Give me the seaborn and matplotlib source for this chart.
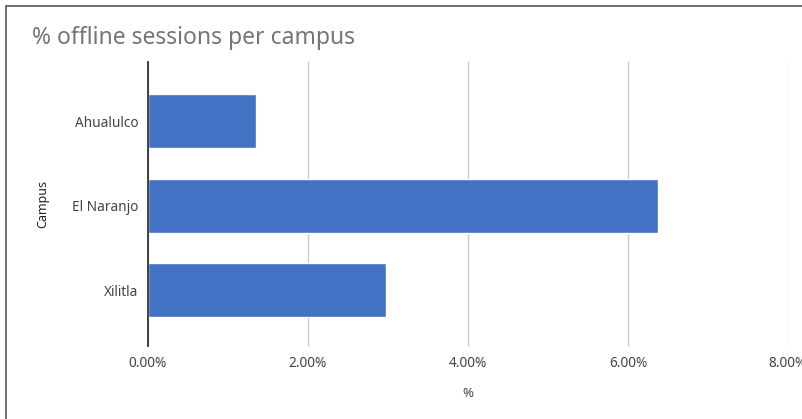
import matplotlib
matplotlib.use("Agg")
import matplotlib.pyplot as plt
import matplotlib.patches as mpatches
from matplotlib.ticker import FuncFormatter
import pandas as pd
import seaborn as sns

# values (fraction, shown as %)
campuses = ["Ahualulco", "El Naranjo", "Xilitla"]
offline_pct = [0.0135, 0.0638, 0.0297]
x_ticks = [0.0, 0.02, 0.04, 0.06, 0.08]

df = pd.DataFrame({"Campus": campuses, "pct": offline_pct})

sns.set_style("white")
plt.rcParams["font.family"] = ["Noto Sans", "DejaVu Sans"]

fig = plt.figure(figsize=(8.03, 4.19), dpi=100)
ax = fig.add_axes([0.1843, 0.174, 0.797, 0.678])

sns.barplot(data=df, x="pct", y="Campus", orient="h", color="#4472C4",
            saturation=1, width=0.64, ax=ax)

ax.set_xlim(0, 0.08)
ax.set_ylim(2.66, -0.70)
ax.set_xticks(x_ticks)
ax.xaxis.set_major_formatter(FuncFormatter(lambda v, p: "{:.2f}%".format(v * 100)))
ax.grid(axis="x", color="#cccccc", linewidth=1)
ax.set_axisbelow(True)
for s in ["top", "right", "bottom"]:
    ax.spines[s].set_visible(False)
ax.spines["left"].set_color("#333333")
ax.spines["left"].set_linewidth(1.3)
ax.spines["left"].set_zorder(5)
ax.tick_params(axis="both", length=0, labelsize=9.8, labelcolor="#444444")
ax.tick_params(axis="x", pad=7)
ax.tick_params(axis="y", pad=7)
for lbl in ax.get_xticklabels():
    lbl.set_clip_on(False)

ax.set_xlabel("%", fontsize=9.5, color="#444444", labelpad=12)
ax.set_ylabel("Campus", fontsize=9, color="#222222", labelpad=16)

fig.text(32 / 803, 1 - 38 / 419, "% offline sessions per campus", fontsize=16.5,
         color="#757575", va="center", ha="left")

# outer frame (cropped on right and bottom)
frame = mpatches.Rectangle((6 / 803, -0.1), 1.2, 1 - 6 / 419 + 0.1,
                           transform=fig.transFigure, fill=False,
                           edgecolor="#555555", linewidth=1.2)
fig.patches.append(frame)

fig.savefig("out.png", dpi=100)
